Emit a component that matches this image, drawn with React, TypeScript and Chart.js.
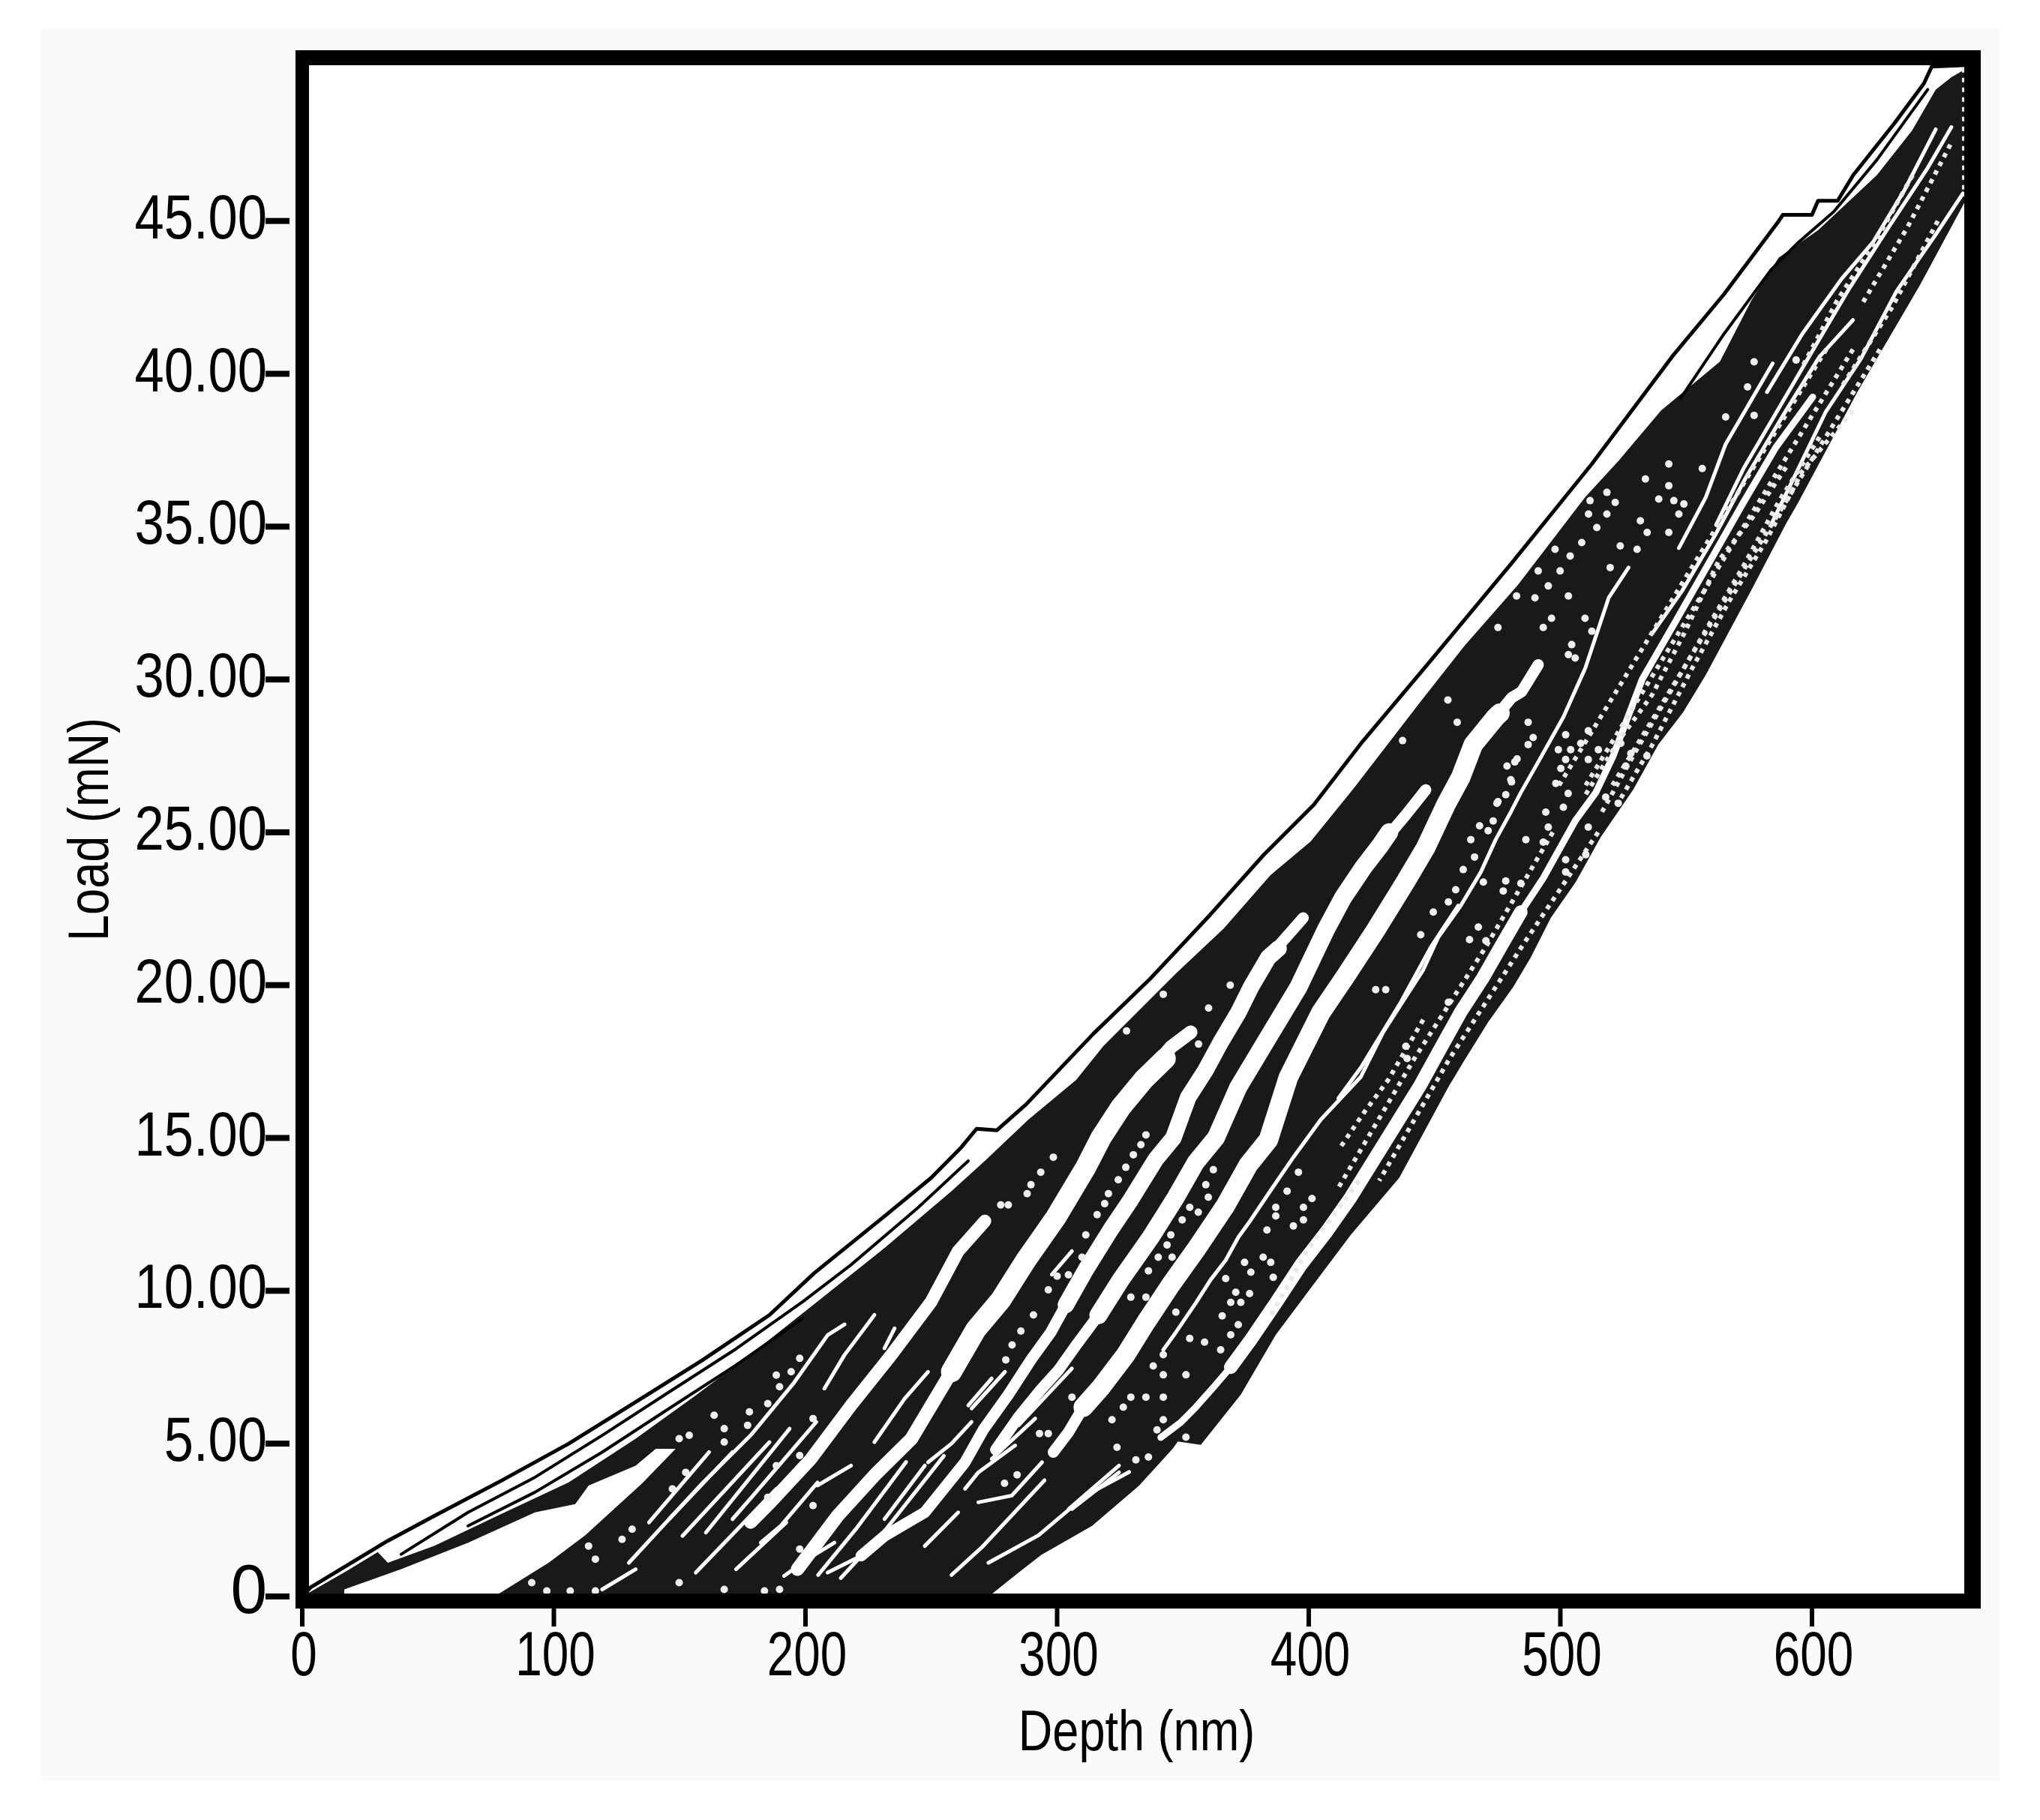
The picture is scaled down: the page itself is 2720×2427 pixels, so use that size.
import { useRef, useEffect } from 'react';
import { Chart, registerables } from 'chart.js';

Chart.register(...registerables);

type Pt = [number, number];

const xTicks = [0, 100, 200, 300, 400, 500, 600];
const yTicks = [0, 5, 10, 15, 20, 25, 30, 35, 40, 45];
const yTickLabels = ['0', '5.00', '10.00', '15.00', '20.00', '25.00', '30.00', '35.00', '40.00', '45.00'];

// outer loading curve
const envelope: Pt[] = [[0, 0], [3.4, 0.3], [34, 1.82], [52.6, 2.64], [79.2, 3.79], [105.9, 5], [132.5, 6.36], [159, 7.73], [185.7, 9.21], [203.5, 10.58], [231.4, 12.44], [250, 13.7], [262, 14.7], [268, 15.3], [276, 15.25], [287.7, 16.1], [314.3, 18.4], [336.9, 20.2], [360.8, 22.3], [382.1, 24.26], [402, 25.9], [420.7, 27.9], [447.3, 30.5], [480.6, 33.8], [512.5, 37.05], [544.4, 40.56], [565, 42.6], [586.8, 45], [588.4, 45.2], [600, 45.2], [602.4, 45.66], [610.2, 45.66], [616.4, 46.5], [632.8, 48.2], [644.5, 49.5], [647.6, 50.05], [661.6, 50.1]];
const innerLine1: Pt[] = [[39.3, 1.38], [65.9, 2.75], [92.5, 3.9], [119.2, 5.27], [145.8, 6.69], [172.4, 8.1], [199, 9.65], [218.1, 10.85], [244.7, 12.72], [264.7, 14.25]];
const innerLine2: Pt[] = [[65.9, 2.31], [92.5, 3.41], [119.2, 4.72], [145.8, 6.15], [172.4, 7.57], [199, 9.1]];
const innerLine3: Pt[] = [[547.8, 39.2], [565, 41.3], [583.7, 43.4], [594.6, 44.3], [608.6, 45.3], [625.8, 47], [646, 49.3]];

// black mass of all the overlapping curves
const massTop: Pt[] = [[0, 0], [18, 0.85], [30, 1.45], [34, 1.1], [52.6, 1.66], [79.2, 2.7], [105.9, 3.73], [132.5, 5.16], [156.4, 6.58], [183, 8.23], [204.8, 9.65], [231.4, 11.4], [258, 13.26], [271.3, 14.25], [288.6, 15.6], [307.6, 16.9], [318.3, 18], [347.5, 20.4], [366.2, 21.85], [384.8, 23.6], [400.8, 24.7], [418, 26.45], [444.7, 29.3], [461.9, 31.1], [483.2, 33.1], [509.8, 35.96], [523.2, 37.16], [540, 38.8], [563.4, 40.4], [575.9, 42.4], [586.8, 43.8], [602.4, 44.7], [625.8, 46.5], [639.8, 47.96], [649.2, 49.3], [655.4, 49.7], [661.7, 50]];
const massBottom: Pt[] = [[0, -0.1], [271.3, -0.1], [284.7, 0.78], [293.7, 1.36], [313.9, 2.31], [324.7, 3.07], [332.6, 3.63], [345.9, 4.83], [348, 5.07], [357.1, 4.96], [373, 6.6], [386.9, 8.56], [401.8, 10.2], [416.7, 11.83], [436, 13.7], [455.5, 16.67], [461.4, 17.48], [471.4, 18.8], [481.3, 19.94], [488.2, 20.9], [496.2, 22.2], [506.1, 23.37], [516, 24.84], [529, 26.4], [538.9, 27.87], [548.8, 28.93], [557.8, 30.15], [576.4, 33], [589.7, 35.1], [594.6, 35.8], [618, 39.4], [642.9, 42.9], [661.7, 45.77]];

// big white gap under the first loading curve
const gapTop: Pt[] = [[16.7, 0.23], [39.3, 0.89], [65.9, 1.76], [92.5, 2.75], [108.5, 3.02], [113.8, 3.63], [132.5, 4.28], [140.5, 4.83], [148.4, 4.83]];
const gapBottom: Pt[] = [[16.7, 0.08], [77.9, 0.08], [97.9, 1.1], [112.5, 2], [135.1, 3.7], [148.4, 4.83]];

// white stripes between the unloading bundles
const stripeB: Pt[] = [[271.3, 12.28], [260.7, 11.3], [250, 9.65], [234.1, 7.9], [218.1, 6.25], [202.2, 4.5], [186.2, 3.08], [178.2, 2.42]];
const stripeC: Pt[] = [[353.1, 18.46], [345.2, 17.97], [334.3, 16.9], [325.3, 16], [317.4, 15], [311.4, 14.04], [299.5, 12.4], [287.6, 11], [277.6, 9.7], [267.7, 8.73], [258, 7.35], [242.1, 5.16], [227.4, 3.96], [212.8, 2.64], [196.8, 0.89]];
const stripeCWide: Pt[] = [[343, 17.6], [334.3, 16.9], [325.3, 16], [317.4, 15], [311.4, 14.04], [299.5, 12.4], [287.6, 11], [277.6, 9.7], [267.7, 8.73], [258, 7.35]];
const stripeD: Pt[] = [[397.8, 22.2], [391.9, 21.65], [383.9, 20.9], [377, 19.93], [372, 19.1], [365, 18.13], [359.1, 17.23], [352.1, 16.33], [346.2, 15], [339.2, 14.3], [329.3, 12.98], [321.3, 12], [311.4, 10.69], [303.5, 9.54], [297.5, 8.64], [289.6, 7.74], [280.6, 6.6], [270.7, 5.46], [263.4, 4.39], [247.4, 2.75], [231.4, 1.98], [222.1, 1.33]];
const stripeDWide: Pt[] = [[388, 21.2], [383.9, 20.9], [377, 19.93], [372, 19.1], [365, 18.13], [359.1, 17.23], [352.1, 16.33], [346.2, 15], [339.2, 14.3], [329.3, 12.98], [321.3, 12], [311.4, 10.69], [303.5, 9.54]];
const stripeE: Pt[] = [[446.5, 26.39], [438.6, 25.57], [428.6, 24.59], [421.7, 23.85], [413.7, 22.87], [406.8, 21.81], [395.9, 19.93], [383.9, 18.29], [372, 16.66], [363.1, 15], [355.1, 14.2], [347.2, 13.06], [337.2, 11.75], [325.3, 10.36], [316.4, 9.2], [307.4, 8.2], [300.5, 7.4], [293.5, 6.76], [284.6, 5.86], [275.6, 4.8]];
const stripeEWide: Pt[] = [[432, 25], [428.6, 24.59], [421.7, 23.85], [413.7, 22.87], [406.8, 21.81], [395.9, 19.93], [383.9, 18.29], [372, 16.66], [363.1, 15], [355.1, 14.2], [347.2, 13.06], [337.2, 11.75], [325.3, 10.36], [316.4, 9.2]];
const stripeF: Pt[] = [[491.2, 30.48], [484.6, 29.6], [480.6, 29.4], [474.3, 28.77], [465.4, 27.87], [460.4, 26.8], [454.5, 25.9], [446.5, 24.5], [438.6, 23.4], [426.6, 21.8], [414.7, 20.3], [404.8, 19.1], [391.9, 16.98], [384, 14.94], [376, 14.12], [367, 12.8], [355.1, 11.34], [345.2, 10.2], [335.3, 8.97], [327.3, 7.91], [317.4, 6.84], [310.4, 6.19], [304.5, 5.37], [298.5, 4.72]];
const stripeFWide: Pt[] = [[476, 28.9], [474.3, 28.77], [465.4, 27.87], [460.4, 26.8], [454.5, 25.9], [446.5, 24.5], [438.6, 23.4], [426.6, 21.8], [414.7, 20.3], [404.8, 19.1], [391.9, 16.98], [384, 14.94], [376, 14.12], [367, 12.8], [355.1, 11.34], [345.2, 10.2], [335.3, 8.97], [327.3, 7.91], [317.4, 6.84], [310.4, 6.19]];
const stripeH: Pt[] = [[600.3, 39.24], [585.7, 37.6], [572.4, 35.74], [560.4, 34], [545.8, 31.9], [532.5, 30], [521, 27.5], [514.1, 26.3], [506.1, 25.4], [501.2, 24.68], [493.2, 23.5], [484.3, 22.39], [477.3, 21.4], [469.4, 20.26], [460.4, 19.12], [451.5, 17.8], [444.5, 16.75], [416.7, 13.06], [406.8, 11.9], [396.9, 10.85], [386.9, 9.6], [377, 8.4], [369, 7.5], [362.1, 6.84], [355.1, 6.19], [349.2, 5.7], [341.2, 5.2]];
const stripeHWide: Pt[] = [[484.3, 22.39], [477.3, 21.4], [469.4, 20.26], [460.4, 19.12], [451.5, 17.8], [444.5, 16.75], [416.7, 13.06], [406.8, 11.9], [396.9, 10.85], [386.9, 9.6], [377, 8.4], [369, 7.5]];

// thin white lines
const thinLines: Pt[][] = [
  [[215.5, 8.9], [208.8, 8.55], [195.5, 7], [178.2, 5.27], [159, 3.7], [145.8, 2.53], [129.8, 1.1]],
  [[527.1, 33.66], [519.2, 32.67], [509.9, 30.37], [501.2, 28.77], [491.2, 27.3], [484.3, 26.3], [480.3, 25.66], [474.3, 24.76], [468.4, 23.7], [460.4, 22.6], [451.5, 21.57], [445.5, 20.5], [436.6, 19.36], [429.6, 18.46], [420.7, 17], [404.8, 15.6], [393.9, 14.37], [385, 13.3], [377, 12.32], [372, 11.75], [367, 11], [361, 10.36], [355.1, 9.6], [347.2, 8.64], [342.2, 8.07]],
  [[459.4, 22.6], [448.5, 21.24], [436.6, 19.44], [420.7, 17.3], [411.8, 16.3]],
  [[616.3, 41.76], [603, 40.56], [589.7, 38.8], [573.7, 36.6], [561.7, 34.75], [548.4, 32.9], [536.5, 31.5]],
  [[584.4, 40.34], [565.7, 37.7], [557.8, 35.96], [547.1, 34.3]],
  [[655.4, 48.07], [646.1, 46.75], [630.5, 44.8], [614.9, 42.8], [602.4, 41.06], [586.8, 38.87], [572.8, 36.9], [561.9, 35.06]],
  [[660, 45.9], [649.2, 44.56], [633.6, 42.7], [619.5, 40.5], [605.5, 38.76], [594.6, 36.9], [583.7, 35.06]],
  [[649.2, 48], [636.7, 46], [624.2, 44.3], [611.7, 43.1], [596.1, 41.3], [582.1, 39.4]],
  [[161.7, 4.72], [137.8, 2.42]],
  [[171, 4.72], [145.8, 2.53]],
  [[185.7, 5.05], [151.1, 1.98]],
  [[193.7, 5.49], [160.4, 2.09]],
  [[204.3, 5.71], [178, 3.19], [171, 2.53]],
  [[192.4, 2.42], [172.4, 0.89]],
  [[188.4, 3.52], [156.4, 0.78]],
  [[132.5, 0.89], [119.2, 0.23]],
  [[328.6, 4.07], [311.3, 3.3], [292.6, 2], [272.7, 1.1]],
  [[324.6, 4.28], [304.6, 2.86]],
  [[260.7, 2.75], [247.4, 1.65]],
  [[255, 4.6], [232, 2.2], [214, 0.6]],
  [[240, 4.4], [220, 2.2], [205, 0.7]],
  [[295, 3.8], [270, 1.6], [258, 0.7]],
  [[248.7, 7.35], [239.4, 6.47], [227.4, 5.05]],
  [[204.8, 3.73], [190.2, 2.31], [182.2, 1.76]],
  [[218.1, 4.28], [204.8, 3.63]],
  [[211.5, 1.76], [200.8, 1.22], [191.5, 0.67]],
  [[232.8, 1.98], [222.1, 1.33], [208.8, 0.78]],
  [[247.4, 4.28], [231.4, 2.53]],
  [[294, 4.39], [282, 3.3], [268.7, 3.08]],
  [[283.3, 4.94], [268.7, 4.06], [263.4, 3.52]],
  [[291.3, 5.82], [274, 4.5]],
  [[305.9, 7.46], [284.7, 5.6]],
  [[266, 5.71], [258, 5], [248.7, 4.39]],
  [[279.3, 7.35], [266, 6.15]],
  [[274, 7.13], [264.7, 6.25]],
  [[235.4, 8.77], [231.4, 8.12]],
  [[227.4, 9.21], [215.5, 7.9], [207.5, 6.8]],
  [[305.9, 11.3], [297.9, 10.53]],
  [[324.6, 4.06], [305.9, 2.86]],
];

// stippled chains in the dense part
const stippleLines: Pt[][] = [
  [[616.3, 38.8], [596.3, 36.83], [581.7, 34.53], [567.1, 32.56], [552.4, 30.37], [536.5, 27.85], [523.2, 26]],
  [[603, 37.93], [587, 35.85], [572.4, 33.66], [559.1, 31.8], [544.4, 29.7], [529.8, 27.63], [516.5, 25.66]],
  [[589.7, 36.94], [576.4, 35.3], [563, 33.9], [549.8, 31.6], [536.5, 29.5], [523.2, 28], [509.8, 26.2]],
  [[445.5, 18.87], [431.6, 16.9], [421.7, 15.8], [411.8, 14.6]],
  [[660.5, 50], [660.5, 45.8]],
  [[640, 46.5], [625, 44.3], [610, 42.4], [596, 40.2]],
  [[627, 40.8], [573.7, 33.7], [520.4, 26.5]],
  [[616.3, 40.8], [563.1, 33.7], [509.8, 26.5]],
  [[605.7, 40.8], [552.5, 33.7], [499.2, 26.5]],
  [[650, 45], [632, 42.2], [612, 39.6]],
  [[655, 47.5], [638, 44.8], [620, 42.3]],
  [[515, 25], [485, 21.3], [456, 17.6], [428, 13.6]],
  [[497, 25], [470, 21.2], [442, 17.6], [412, 13.4]],
  [[420, 13.6], [400, 11.4], [385, 9.2]],
];

const whiteDots: Pt[] = [
  [298.5, 14.37], [293.5, 13.88], [289.6, 13.47], [288.1, 13.18], [280.6, 12.81], [277.6, 12.81], [335.3, 15.1], [333.3, 14.78], [330.3, 14.45], [327.3, 14.04], [324.3, 13.63], [320.4, 13.18], [318.9, 12.85], [315.9, 12.49], [311.4, 11.83], [309.9, 11.1],
  [362.1, 13.96], [359.1, 13.47], [360.1, 13.06], [352.7, 12.73], [356.1, 12.57], [349.7, 12.32], [345.2, 11.83], [343.7, 11.5], [340.2, 11.1], [345.7, 11.1], [336.3, 10.65], [329.3, 9.79], [335.3, 9.79],
  [395.9, 13.88], [391.4, 13.26], [401.3, 13.02], [386.9, 12.73], [397.9, 12.73], [386.9, 12.45], [397.9, 12.32], [393.9, 12.12], [383.4, 11.99], [381.9, 11.1], [374.5, 10.93], [384.9, 10.93], [377, 10.61], [385.9, 10.44], [367, 10.4], [371, 9.95], [376.5, 9.91], [369, 9.62], [373, 9.62], [365.6, 9.18], [372, 8.89],
  [347.2, 9.3], [352.7, 8.44], [358.6, 8.32], [369, 8.56], [365, 8.07], [342.2, 7.91], [338.2, 7.54], [342.2, 7.25], [351.2, 7.25], [329.3, 6.52], [335.3, 6.52], [342.2, 6.52], [326.3, 6.19], [321.8, 5.78], [342.2, 5.78], [323.8, 4.88], [351.2, 5.21], [339.7, 5.45], [305.9, 6.52],
  [300, 10.48], [304.5, 10.52], [296.5, 10.03], [290.6, 9.21], [285.6, 8.68], [282.1, 8.23], [279.6, 7.74], [296.5, 5.33], [293, 5.33], [284.1, 3.98], [279.1, 3.7], [331.3, 4.47], [336.3, 4.56],
  [197.7, 7.79], [188.4, 7.24], [194.3, 7.35], [189.7, 6.86], [185, 6.31], [177.7, 6.04], [163.7, 5.93], [167.7, 5.49], [177, 5.6], [167.7, 5.05], [153.8, 5.27], [149.8, 5.16], [203, 5.82], [197.7, 4.61], [188.4, 4.28], [152.4, 4.06], [147.1, 3.52], [131.1, 2.2], [127.1, 1.87], [116.5, 1.22], [113.8, 1.65],
  [91.2, 0.45], [97.2, 0.18], [106.5, 0.18], [116.5, 0.18], [149.8, 0.45], [167.7, 0.23], [183.7, 0.18], [189.7, 0.23], [185, 3.24], [203, 2.97], [197.7, 1.55],
  [487.2, 28.6], [489.2, 28.1], [487.2, 27.87], [482.8, 27.4], [478.8, 27.17], [480.3, 26.72], [478.3, 26.23], [474.8, 25.95], [473.3, 25.37], [467.9, 25.21], [471.3, 25.05], [464.4, 24.76], [465.9, 24.19], [461.4, 23.78], [458.4, 23.12], [455.5, 22.72], [449.5, 22.39], [444.5, 21.65], [430.6, 19.85], [426.6, 19.85],
  [499.2, 27.7], [504.1, 27.7], [508.1, 27.91], [502.1, 28.19], [511.1, 28.32], [515.1, 27.7], [511.1, 27.38], [524, 27.91], [528, 27.58], [534.4, 27.5], [526, 27.17], [502.1, 27.38], [500.2, 27.09], [498.2, 26.6], [503.1, 26.27], [523, 25.95], [518, 26.15], [494.2, 25.66], [495.2, 25.17], [493.2, 24.68], [501.2, 25.82], [511.1, 25.17], [510.1, 24.27], [502.1, 24.1], [502.1, 23.7], [486.3, 24.76], [478.3, 23.41], [484.3, 23.33], [477.3, 23.08], [469.4, 23.37], [467.4, 21.9], [463.9, 21.49], [470.4, 21.45], [455.5, 19.44], [438.6, 18], [439.1, 17.6],
  [543.1, 37.05], [556.4, 36.9], [543.1, 36.34], [533.8, 36.56], [518.5, 36.12], [521.8, 35.79], [511.8, 35.85], [511.2, 35.41], [518.5, 35.41], [539.1, 35.9], [545.1, 35.85], [549.1, 35.74], [547.1, 35.41], [531.8, 35.19], [534.5, 34.81], [543.1, 34.81], [514.5, 34.97], [508.5, 34.48], [523.8, 34.37], [530.5, 34.26], [503.9, 34.04], [497.9, 34.26], [519.8, 33.66], [499.9, 33.55], [491.2, 33.55], [495.2, 33.06], [503.2, 32.73], [482.6, 32.73], [489.9, 32.67], [496.5, 32], [493.2, 31.7], [475.2, 31.7], [565.7, 38.59], [577, 38.64], [574.4, 39.57], [593.7, 40.45], [577, 40.39],
  [504.5, 31.14], [503.2, 30.81], [505.9, 30.7], [509.8, 32], [512.5, 31.58], [455.3, 29.33], [459, 28.6], [437.3, 28], [480.6, 26.65], [475.2, 26], [481.9, 27.3], [327.6, 18.5], [342.2, 19.7], [368.8, 20], [360.2, 19.25], [356.2, 18.07],
];

const FONT = '"Liberation Sans", sans-serif';
const MASS = '#191919';

const stroke = (data: Pt[], color: string, width: number, extra = {}) => ({
  data, borderColor: color, borderWidth: width, backgroundColor: 'transparent',
  pointRadius: 0, tension: 0, fill: false, borderCapStyle: 'round', borderJoinStyle: 'round', ...extra,
});

// bottom layer first
const layers: any[] = [
  stroke(massTop, MASS, 0, { fill: { target: 1 }, backgroundColor: MASS }),
  stroke(massBottom, MASS, 0),
  stroke(gapTop, '#fff', 0, { fill: { target: 3 }, backgroundColor: '#fff' }),
  stroke(gapBottom, '#fff', 0),
  stroke(stripeB, '#fff', 17),
  stroke(stripeC, '#fff', 18),
  stroke(stripeCWide, '#fff', 28),
  stroke(stripeD, '#fff', 15),
  stroke(stripeDWide, '#fff', 22),
  stroke(stripeE, '#fff', 15),
  stroke(stripeEWide, '#fff', 24),
  stroke(stripeF, '#fff', 15),
  stroke(stripeFWide, '#fff', 26),
  stroke(stripeH, '#fff', 9),
  stroke(stripeHWide, '#fff', 18),
  ...thinLines.map((l) => stroke(l, '#fff', 5)),
  ...stippleLines.map((l) => stroke(l, '#e8e8e8', 6, { borderDash: [6, 7], borderCapStyle: 'butt' })),
  stroke(whiteDots, '#eee', 0, { showLine: false, pointRadius: 5, pointBackgroundColor: '#eee', pointBorderWidth: 0 }),
  stroke(envelope, '#000', 5),
  stroke(innerLine1, '#000', 4),
  stroke(innerLine2, '#000', 4),
  stroke(innerLine3, '#000', 4),
].map((d, i, all) => ({ ...d, order: all.length - i }));

// the original lettering is tall and narrow, no condensed face is installed
const squeezedText = (ctx: any, text: string, x: number, y: number, size: number, squeeze: number, align: string, rotate = false) => {
  ctx.save();
  ctx.translate(x, y);
  if (rotate) ctx.rotate(-Math.PI / 2);
  ctx.scale(squeeze, 1);
  ctx.font = `${size}px ${FONT}`;
  ctx.textAlign = align;
  ctx.textBaseline = 'middle';
  ctx.fillStyle = '#000';
  ctx.fillText(text, 0, 0);
  ctx.restore();
};

const plotDecor = {
  id: 'plotDecor',
  beforeDatasetsDraw(chart: any) {
    const { ctx, chartArea: a } = chart;
    ctx.save();
    ctx.fillStyle = '#fff';
    ctx.fillRect(a.left, a.top, a.right - a.left, a.bottom - a.top);
    ctx.restore();
  },
  afterDraw(chart: any) {
    const { ctx, chartArea: a, scales } = chart;
    ctx.save();
    ctx.fillStyle = '#000';
    // frame round the plot, the right side is a bit heavier
    ctx.fillRect(a.left - 9, a.top - 10, a.right - a.left + 22, 20);
    ctx.fillRect(a.left - 9, a.bottom - 10, a.right - a.left + 22, 20);
    ctx.fillRect(a.left - 9, a.top - 10, 18, a.bottom - a.top + 20);
    ctx.fillRect(a.right - 9, a.top - 10, 22, a.bottom - a.top + 20);
    // ticks stand off from the frame on the y axis
    yTicks.forEach((v, i) => {
      const y = scales.y.getPixelForValue(v);
      ctx.fillRect(a.left - 49, y - 4, 32, 8);
      squeezedText(ctx, yTickLabels[i], a.left - 47, y + (i === 0 ? -3 : 0), i === 0 ? 92 : 84, i === 0 ? 0.95 : 0.84, 'right');
    });
    xTicks.forEach((v) => {
      const x = scales.x.getPixelForValue(v);
      ctx.fillRect(x - 3, a.bottom + 10, 6, 24);
      squeezedText(ctx, String(v), x + 2, a.bottom + 76, 84, 0.76, 'center');
    });
    ctx.restore();
    squeezedText(ctx, 'Depth (nm)', (a.left + a.right) / 2, a.bottom + 178, 76, 0.83, 'center');
    squeezedText(ctx, 'Load (mN)', a.left - 280, (a.top + a.bottom) / 2, 76, 0.83, 'center', true);
  },
};

const App = () => {
  const chartRef = useRef<HTMLCanvasElement | null>(null);

  useEffect(() => {
    const chart = new Chart(chartRef.current!, {
      type: 'line',
      data: { datasets: layers },
      plugins: [plotDecor],
      options: {
        animation: false,
        responsive: false,
        devicePixelRatio: 1,
        layout: { padding: { top: 77, right: 92, left: 0, bottom: 0 } },
        plugins: {
          legend: { display: false },
          tooltip: { enabled: false },
          filler: { propagate: false, drawTime: 'beforeDatasetDraw' },
        },
        scales: {
          x: {
            type: 'linear',
            min: 0,
            max: 663.2,
            grid: { display: false, drawTicks: false },
            border: { display: false },
            afterFit: (s: any) => { s.height = 292; },
            ticks: { display: false },
          },
          y: {
            min: -0.15,
            max: 50.34,
            grid: { display: false, drawTicks: false },
            border: { display: false },
            afterFit: (s: any) => { s.width = 403; },
            ticks: { display: false },
          },
        },
      },
    });
    return () => {
      chart.destroy();
    };
  }, []);

  return (
    <div style={{ position: 'absolute', left: 0, top: 0, width: 2720, height: 2427, background: '#fff' }}>
      <div style={{ position: 'absolute', left: 55, top: 38, width: 2611, height: 2337, background: '#fafafa' }} />
      <canvas ref={chartRef} width={2720} height={2427} style={{ position: 'absolute', left: 0, top: 0 }} />
    </div>
  );
};

export default App;
